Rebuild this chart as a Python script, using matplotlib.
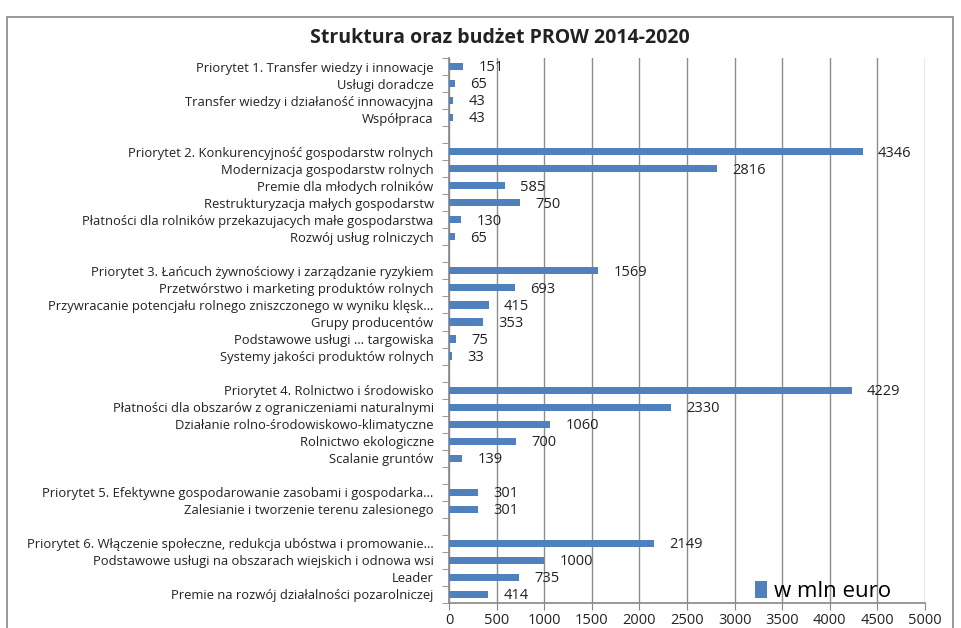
import numpy as np
import matplotlib.pyplot as plt
from matplotlib.patches import Rectangle

# --- data (top to bottom, None = empty row between groups) ---
labels = [
    "Priorytet 1. Transfer wiedzy i innowacje",
    "Usługi doradcze",
    "Transfer wiedzy i działaność innowacyjna",
    "Współpraca",
    None,
    "Priorytet 2. Konkurencyjność gospodarstw rolnych",
    "Modernizacja gospodarstw rolnych",
    "Premie dla młodych rolników",
    "Restrukturyzacja małych gospodarstw",
    "Płatności dla rolników przekazujacych małe gospodarstwa",
    "Rozwój usług rolniczych",
    None,
    "Priorytet 3. Łańcuch żywnościowy i zarządzanie ryzykiem",
    "Przetwórstwo i marketing produktów rolnych",
    "Przywracanie potencjału rolnego zniszczonego w wyniku klęsk…",
    "Grupy producentów",
    "Podstawowe usługi … targowiska",
    "Systemy jakości produktów rolnych",
    None,
    "Priorytet 4. Rolnictwo i środowisko",
    "Płatności dla obszarów z ograniczeniami naturalnymi",
    "Działanie rolno-środowiskowo-klimatyczne",
    "Rolnictwo ekologiczne",
    "Scalanie gruntów",
    None,
    "Priorytet 5. Efektywne gospodarowanie zasobami i gospodarka…",
    "Zalesianie i tworzenie terenu zalesionego",
    None,
    "Priorytet 6. Włączenie społeczne, redukcja ubóstwa i promowanie…",
    "Podstawowe usługi na obszarach wiejskich i odnowa wsi",
    "Leader",
    "Premie na rozwój działalności pozarolniczej",
]
values = [151, 65, 43, 43, None,
          4346, 2816, 585, 750, 130, 65, None,
          1569, 693, 415, 353, 75, 33, None,
          4229, 2330, 1060, 700, 139, None,
          301, 301, None,
          2149, 1000, 735, 414]
x_ticks = list(range(0, 5001, 500))
title = "Struktura oraz budżet PROW 2014-2020"
series_name = "w mln euro"

BAR = "#4F81BD"
plt.rcParams['font.family'] = ['Open Sans', 'DejaVu Sans']

W, H = 962, 628
fig = plt.figure(figsize=(W / 100, H / 100), dpi=100)

# outer frame of the chart object
fig.patches.append(Rectangle((7 / W, -0.1), 946 / W, 1.1 - 17 / H,
                             transform=fig.transFigure, fill=False,
                             edgecolor="#888888", linewidth=1.2))

ax = fig.add_axes([449 / W, 25 / H, 476 / W, 545 / H])

n = len(labels)
ypos = np.arange(n)
vals = [v if v is not None else 0 for v in values]
ax.barh(ypos, vals, height=0.42, color=BAR, label=series_name, zorder=3)

for y, v in zip(ypos, values):
    if v is None:
        continue
    ax.annotate(str(v), (v, y), xytext=(11, -1), textcoords="offset points",
                ha="left", va="center", fontsize=10.5, color="#222222", zorder=4)

ax.set_ylim(n - 0.5, -0.5)
ax.set_xlim(0, 5000)
ax.set_xticks(x_ticks)
ax.set_xticklabels([str(t) for t in x_ticks], fontsize=10.5, color="#222222")
ax.set_yticks(ypos)
ax.set_yticklabels([l if l else "" for l in labels], fontsize=9.4, color="#222222")
ax.tick_params(axis="y", length=0, pad=11)
ax.set_yticks(np.arange(-0.5, n + 0.5, 1), minor=True)
ax.tick_params(axis="y", which="minor", length=5, color="#888888", direction="out")
ax.tick_params(axis="x", length=5, color="#888888", direction="out", pad=2.5)

ax.grid(axis="x", color="#8c8c8c", linewidth=1.0, zorder=0)
for s in ["top", "right"]:
    ax.spines[s].set_visible(False)
for s in ["left", "bottom"]:
    ax.spines[s].set_color("#888888")
    ax.spines[s].set_linewidth(1.2)

ax.legend(loc="lower right", bbox_to_anchor=(0.97, -0.035), frameon=False,
          fontsize=16, handlelength=0.55, handleheight=0.8, handletextpad=0.3)

fig.text(500 / W, 1 - 38 / H, title, ha="center", va="center",
         fontsize=14, fontweight="bold", color="#222222")

fig.savefig("out.png", dpi=100)
